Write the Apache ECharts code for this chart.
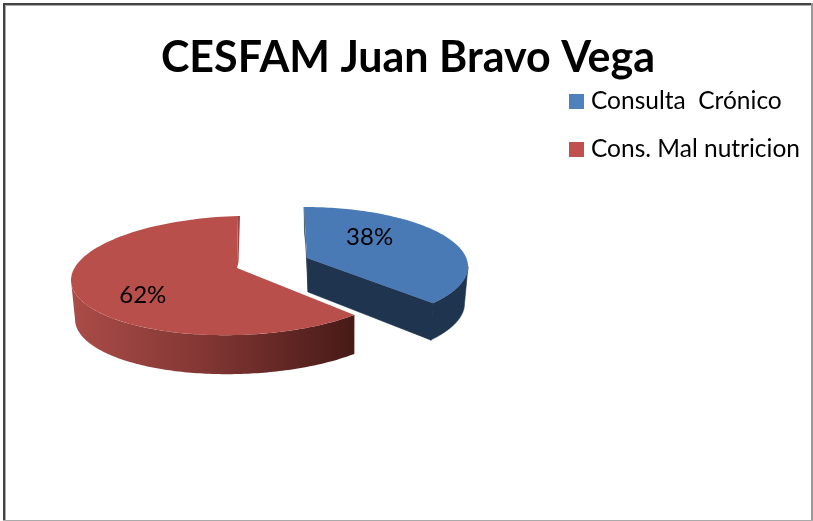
<!DOCTYPE html>
<html>
<head>
<meta charset="utf-8">
<style>html,body{margin:0;padding:0;background:#fff}#c{width:813px;height:521px}</style>
<script src="https://cdn.jsdelivr.net/npm/echarts@6/dist/echarts.min.js"></script>
</head>
<body>
<div id="c"></div>
<script>
const titleText = 'CESFAM Juan Bravo Vega';
const categories = ['Consulta  Crónico', 'Cons. Mal nutricion'];
const sliceValues = [38, 62];

// Projection of each exploded slice on the tilted 3D plane (layout only)
const projection = [
  { cx: 304, cy: 266.5, rx: 164, ry: 59.5, tilt: 0, apexX: 307, apexY: 258, depth: 37, botRx: 161, botCx: 303.5,
    startBias: 0, endBias: -8.8, labelU: 0.4, labelV: -0.49 },
  { cx: 238, cy: 275.5, rx: 167, ry: 59.5, tilt: 0.028, apexX: 237, apexY: 268, depth: 39, botRx: 164.6, botCx: 239.6,
    startBias: -1, endBias: 0, labelU: -0.57, labelV: 0.34 }
];
const colors = [
  { top: '#4a7ab6', legend: '#4f81bd', side: '#1f344f', back: '#1f344f' },
  { top: '#b94f4a', legend: '#c0504d', back: '#a34541',
    side: [{ offset: 0, color: '#ab4c48' }, { offset: 0.5, color: '#7f3532' }, { offset: 1, color: '#471a17' }] }
];

const total = sliceValues.reduce((a, b) => a + b, 0);
const chart = echarts.init(document.getElementById('c'));

function rim(p, deg, dy, bottom) {
  const a = deg * Math.PI / 180;
  const rx = bottom ? p.botRx : p.rx, cx = bottom ? p.botCx : p.cx;
  return [cx + rx * Math.sin(a),
          p.cy - p.ry * Math.cos(a) - p.tilt * p.rx * Math.sin(a) + dy];
}
function arc(p, from, to, dy, bottom) {
  const pts = [], n = 120;
  for (let i = 0; i <= n; i++) pts.push(rim(p, from + (to - from) * i / n, dy, bottom));
  return pts;
}

function renderSlice(idx) {
  return function (params, api) {
    const v = api.value(0);
    const before = sliceValues.slice(0, idx).reduce((a, b) => a + b, 0);
    const p = projection[idx], c = colors[idx];
    const start = before / total * 360 + p.startBias;
    const end = (before + v) / total * 360 + p.endBias;
    const children = [];
    const apex = [p.apexX, p.apexY];
    const apexB = [p.apexX + 1, p.apexY + p.depth - 3];

    // inner cut walls
    if (idx === 0) {
      const e = rim(p, end, 0, false), eb = rim(p, end, p.depth, false);
      children.push({ type: 'polygon', shape: { points: [apex, e, [eb[0] - 2, eb[1]], apexB] },
        style: { fill: c.side, stroke: c.side, lineWidth: 0.6 } });
      const s = rim(p, start, 0, false);
      children.push({ type: 'polygon', shape: { points: [s, [s[0] + 0.5, s[1] + 26], apex, apexB] },
        style: { fill: c.back, stroke: c.back, lineWidth: 0.4 } });
    } else {
      const s = rim(p, end, 0, false);
      children.push({ type: 'polygon', shape: { points: [s, [s[0] + 2, s[1]], [apex[0] + 1.5, apex[1] - 6], apex] },
        style: { fill: c.back } });
    }
    // outer curved wall: only the part facing the viewer (90..270 degrees)
    const wFrom = Math.max(start, 90), wTo = Math.min(end, 270);
    if (wTo > wFrom) {
      const upper = arc(p, wFrom, wTo, 0, false);
      const lower = arc(p, wTo, wFrom, p.depth, true);
      const grad = Array.isArray(c.side);
      const fill = grad ? new echarts.graphic.LinearGradient(0, 0, 1, 0, c.side) : c.side;
      children.push({ type: 'polygon', shape: { points: upper.concat(lower) },
        style: grad ? { fill: fill } : { fill: fill, stroke: fill, lineWidth: 0.6 } });
    }
    // top face
    children.push({ type: 'polygon',
      shape: { points: [apex].concat(arc(p, start, end, 0, false)) },
      style: { fill: c.top } });
    // percentage label
    children.push({ type: 'text',
      style: {
        text: Math.round(v / total * 100) + '%',
        x: p.cx + p.labelU * p.rx, y: p.cy + p.labelV * p.ry,
        align: 'center', verticalAlign: 'middle',
        font: '24px Lato', fill: '#000'
      } });
    return { type: 'group', children: children };
  };
}

chart.setOption({
  animation: false,
  backgroundColor: '#fff',
  title: {
    text: titleText, left: 403, top: 32, textAlign: 'center',
    textStyle: { fontFamily: 'Lato', fontWeight: 'bold', fontSize: 43, color: '#000' }
  },
  legend: {
    orient: 'vertical', left: 564, top: 84, itemWidth: 15, itemHeight: 15, itemGap: 23,
    icon: 'rect', selectedMode: false,
    data: categories,
    textStyle: { fontFamily: 'Lato', fontSize: 24.5, color: '#000', padding: [0, 0, 0, 2] }
  },
  series: categories.map((name, i) => ({
    type: 'custom', name: name, coordinateSystem: 'none',
    itemStyle: { color: colors[i].legend },
    renderItem: renderSlice(i),
    data: [[sliceValues[i]]]
  })),
  graphic: [
    { type: 'rect', shape: { x: 3, y: 3, width: 809, height: 2 }, style: { fill: '#444' }, silent: true },
    { type: 'rect', shape: { x: 3, y: 5, width: 809, height: 1 }, style: { fill: '#aaa' }, silent: true },
    { type: 'rect', shape: { x: 3, y: 3, width: 2, height: 518 }, style: { fill: '#444' }, silent: true },
    { type: 'rect', shape: { x: 5, y: 5, width: 1, height: 516 }, style: { fill: '#aaa' }, silent: true },
    { type: 'rect', shape: { x: 811, y: 3, width: 2, height: 518 }, style: { fill: '#999' }, silent: true },
    { type: 'rect', shape: { x: 3, y: 520, width: 810, height: 1 }, style: { fill: '#aaa' }, silent: true }
  ]
});
</script>
</body>
</html>
